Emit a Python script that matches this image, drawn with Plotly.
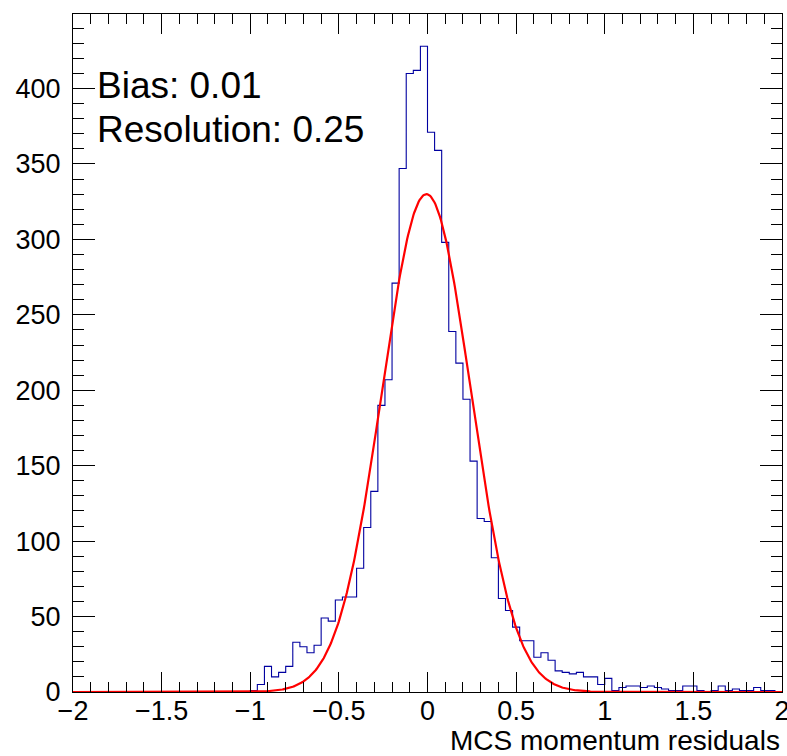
import numpy as np
import plotly.graph_objects as go

# Histogram: 100 bins from -2 to 2 (width 0.04)
bin_low = -2.0
bin_high = 2.0
n_bins = 100
counts = [0] * 25 + [
    1, 5, 17, 10, 13, 17, 33, 30, 26, 31, 49, 47, 61, 63, 63, 82,          # -1.00 .. -0.40
    109, 133, 190, 207, 271, 347, 410, 412, 428, 371, 359, 298, 239, 218,  # -0.36 .. 0.16
    194, 153, 115, 113, 89, 62, 54, 43, 34, 34, 23, 26, 21, 14, 13, 12,    # 0.20 .. 0.80
    13, 10, 10, 5,                                                         # 0.84 .. 0.96
    9, 1, 3, 4, 4, 3, 4, 3, 2, 1, 1, 4, 4, 1, 0, 1, 4, 1, 2, 1, 1, 3, 1, 1, 0,  # 1.00 .. 1.96
]

# Gaussian fit parameters
fit_amp = 330.0
fit_mean = -0.006
fit_sigma = 0.25

x_tick_vals = [-2, -1.5, -1, -0.5, 0, 0.5, 1, 1.5, 2]
y_tick_vals = [0, 50, 100, 150, 200, 250, 300, 350, 400]
bias_text = "Bias: 0.01"
res_text = "Resolution: 0.25"
x_title = "MCS momentum residuals"

edges = np.linspace(bin_low, bin_high, n_bins + 1)
step_y = list(counts) + [counts[-1]]

fx = np.linspace(bin_low, bin_high, 801)
fy = fit_amp * np.exp(-0.5 * ((fx - fit_mean) / fit_sigma) ** 2)

FONT = "Liberation Sans, Arial, Helvetica, sans-serif"

fig = go.Figure()
fig.add_trace(go.Scatter(x=edges, y=step_y, mode="lines", line_shape="hv",
                         line=dict(color="#0000a0", width=1.1), showlegend=False,
                         hoverinfo="skip"))
fig.add_trace(go.Scatter(x=fx, y=fy, mode="lines",
                         line=dict(color="#ff0000", width=2.2), showlegend=False,
                         hoverinfo="skip"))

ymax = 1.05 * max(counts)

fig.update_layout(
    width=787, height=756,
    margin=dict(l=73, r=5, t=14, b=64),
    paper_bgcolor="white", plot_bgcolor="white",
    font=dict(family=FONT, size=27, color="black"),
    showlegend=False,
    xaxis=dict(range=[bin_low, bin_high], tickvals=x_tick_vals,
               ticks="inside", ticklen=20, tickwidth=1, tickcolor="black",
               showline=True, linecolor="black", linewidth=1, mirror="ticks",
               showgrid=False, zeroline=False, automargin=False,
               minor=dict(dtick=0.1, tick0=0, ticks="inside", ticklen=10,
                          tickcolor="black", tickwidth=1, showgrid=False),
               tickfont=dict(size=27), ticklabelstandoff=-5,
               ticklabeloverflow="allow"),
    yaxis=dict(range=[0, ymax], tickvals=y_tick_vals,
               ticks="inside", ticklen=22, tickwidth=1, tickcolor="black",
               showline=True, linecolor="black", linewidth=1, mirror="ticks",
               showgrid=False, zeroline=False, automargin=False,
               minor=dict(dtick=10, tick0=0, ticks="inside", ticklen=11,
                          tickcolor="black", tickwidth=1, showgrid=False),
               tickfont=dict(size=27), ticklabelstandoff=6,
               ticklabeloverflow="allow"),
    annotations=[
        dict(text=bias_text, xref="paper", yref="paper", x=0.031, y=0.895,
             xanchor="left", yanchor="middle", showarrow=False,
             font=dict(size=37, family=FONT, color="black")),
        dict(text=res_text, xref="paper", yref="paper", x=0.031, y=0.829,
             xanchor="left", yanchor="middle", showarrow=False,
             font=dict(size=37, family=FONT, color="black")),
        dict(text=x_title, xref="paper", yref="paper", x=1.0, y=-0.072,
             xanchor="right", yanchor="middle", showarrow=False,
             font=dict(size=28, family=FONT, color="black")),
    ],
)

fig.write_html("out.html")
